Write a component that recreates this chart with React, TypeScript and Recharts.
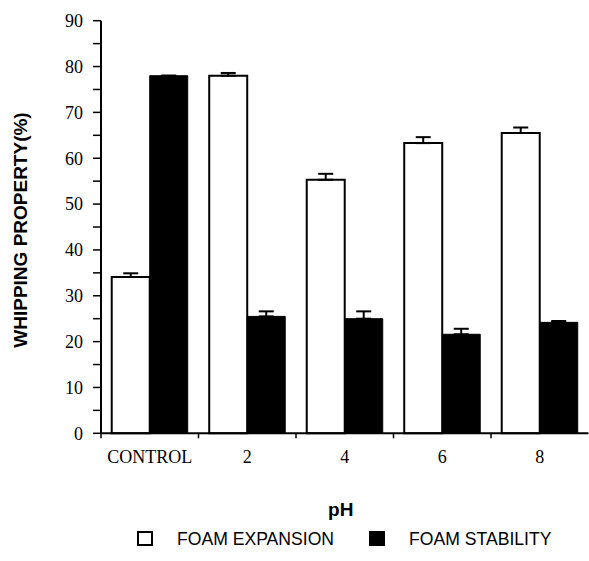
import React from 'react';
import { BarChart, Bar, XAxis, YAxis, ErrorBar, Legend } from 'recharts';

// ---- data ----
const categories = ['CONTROL', '2', '4', '6', '8'];
const foamExpansion = [34.1, 78.0, 55.3, 63.3, 65.5];
const foamExpansionErr = [0.8, 0.6, 1.3, 1.3, 1.2];
const foamStability = [78.0, 25.5, 25.0, 21.6, 24.2];
const foamStabilityErr = [0, 1.1, 1.6, 1.2, 0.3];
const yTicks = [0, 5, 10, 15, 20, 25, 30, 35, 40, 45, 50, 55, 60, 65, 70, 75, 80, 85, 90];

const seriesNames = { exp: 'FOAM EXPANSION', stab: 'FOAM STABILITY' };

const data = categories.map((c, i) => ({
  name: c,
  exp: foamExpansion[i],
  expErr: [0, foamExpansionErr[i]],
  stab: foamStability[i],
  stabErr: [0, foamStabilityErr[i]],
}));

// ---- layout ----
const W = 589;
const H = 561;
const MARGIN = { top: 20.7, right: 0.5, left: 0, bottom: 89.7 };
const Y_AXIS_W = 101;
const X_AXIS_H = 38;
const BAND = (W - MARGIN.left - MARGIN.right - Y_AXIS_W) / categories.length;

const serif = '"Liberation Serif", "Times New Roman", serif';
const sans = '"Liberation Sans", Arial, Helvetica, sans-serif';

const XTick = (props: any) => {
  const { x, y, payload } = props;
  const half = (payload && payload.offset) || BAND / 2;
  return (
    <g>
      <line x1={x - half} y1={y} x2={x - half} y2={y + 5} stroke="#000" strokeWidth={1.5} />
      <text x={x} y={y + 30} textAnchor="middle" fontFamily={serif} fontSize={18} fill="#000">
        {payload.value}
      </text>
    </g>
  );
};

const YTick = (props: any) => {
  const { x, y, payload } = props;
  if (payload.value % 10 !== 0) return <g />;
  return (
    <text x={x} y={y} dy="0.35em" textAnchor="end" fontFamily={serif} fontSize={18} fill="#000">
      {payload.value}
    </text>
  );
};

const renderLegend = (props: any) => {
  const { payload } = props;
  return (
    <div
      style={{
        display: 'flex',
        alignItems: 'center',
        paddingLeft: 137,
        fontFamily: sans,
        fontSize: 17.6,
        lineHeight: '20px',
        color: '#000',
      }}
    >
      {(payload || []).map((entry: any, i: number) => (
        <div key={i} style={{ display: 'flex', alignItems: 'center', marginRight: 35 }}>
          <div
            style={{
              width: 16,
              height: 15,
              boxSizing: 'border-box',
              border: '2px solid #000',
              background: entry.payload && entry.payload.fill ? entry.payload.fill : entry.color,
              marginRight: 24,
            }}
          />
          <span>{entry.value}</span>
        </div>
      ))}
    </div>
  );
};

export default function App() {
  return (
    <div style={{ position: 'absolute', left: 0, top: 0, width: W, height: H, background: '#fff' }}>
      <BarChart width={W} height={H} data={data} margin={MARGIN} barGap={0} barCategoryGap="11%">
        <XAxis
          dataKey="name"
          height={X_AXIS_H}
          tickLine={false}
          tickSize={0}
          tickMargin={0}
          tick={<XTick />}
          axisLine={{ stroke: '#000', strokeWidth: 2 }}
          interval={0}
          label={(p: any) => {
            const vb = p.viewBox;
            return (
              <text
                x={vb.x + vb.width / 2 - 4}
                y={516}
                textAnchor="middle"
                fontFamily={sans}
                fontWeight="bold"
                fontSize={19}
                fill="#000"
              >
                pH
              </text>
            );
          }}
        />
        <YAxis
          width={Y_AXIS_W}
          domain={[0, 90]}
          ticks={yTicks}
          interval={0}
          tickSize={8}
          tickMargin={10}
          tick={<YTick />}
          tickLine={{ stroke: '#000', strokeWidth: 1.5 }}
          axisLine={{ stroke: '#000', strokeWidth: 2 }}
          label={(p: any) => {
            const vb = p.viewBox;
            const cx = 20;
            const cy = vb.y + vb.height / 2 + 3;
            return (
              <text
                x={cx}
                y={cy}
                transform={`rotate(-90 ${cx} ${cy})`}
                textAnchor="middle"
                dominantBaseline="central"
                fontFamily={sans}
                fontWeight="bold"
                fontSize={19}
                fill="#000"
              >
                WHIPPING PROPERTY(%)
              </text>
            );
          }}
        />
        <Legend
          layout="vertical"
          align="center"
          verticalAlign="middle"
          wrapperStyle={{ left: 0, top: 528.5, width: W }}
          content={renderLegend}
        />
        <Bar
          dataKey="exp"
          name={seriesNames.exp}
          fill="#ffffff"
          stroke="#000"
          strokeWidth={2}
          isAnimationActive={false}
        >
          <ErrorBar dataKey="expErr" direction="y" width={7.5} stroke="#000" strokeWidth={2} />
        </Bar>
        <Bar
          dataKey="stab"
          name={seriesNames.stab}
          fill="#000000"
          stroke="#000"
          strokeWidth={1}
          isAnimationActive={false}
        >
          <ErrorBar dataKey="stabErr" direction="y" width={7.5} stroke="#000" strokeWidth={2} />
        </Bar>
      </BarChart>
    </div>
  );
}
